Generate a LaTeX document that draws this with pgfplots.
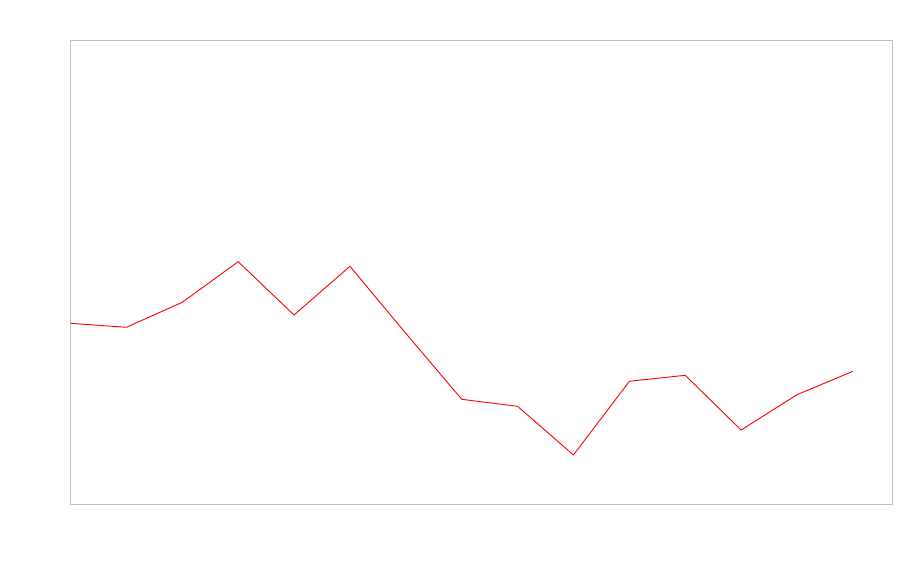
\documentclass[border=0pt]{standalone}
\usepackage{pgfplots}
\pgfplotsset{compat=1.18}
\definecolor{axgray}{HTML}{BFBFBF}
\begin{document}
\begin{tikzpicture}[x=1pt,y=1pt]
\useasboundingbox (0,0) rectangle (900,560);
\begin{axis}[
  at={(70.5pt,56pt)}, anchor=south west,
  scale only axis,
  width=821.5pt, height=463.5pt,
  xmin=0, xmax=14.70,
  ymin=0, ymax=463.5,
  axis line style={draw=axgray, line width=1pt},
  ticks=none,
  clip=true,
]
\addplot[red, line width=0.9pt, mark=none] coordinates {
(0,180.7) (1,176.7) (2,201.7) (3,242.3) (4,189) (5,237.7) (6,170.7)
(7,104.7) (8,97.7) (9,49) (10,122.7) (11,128.7) (12,74) (13,109.3) (14,132.7)
};
\end{axis}
\end{tikzpicture}
\end{document}
